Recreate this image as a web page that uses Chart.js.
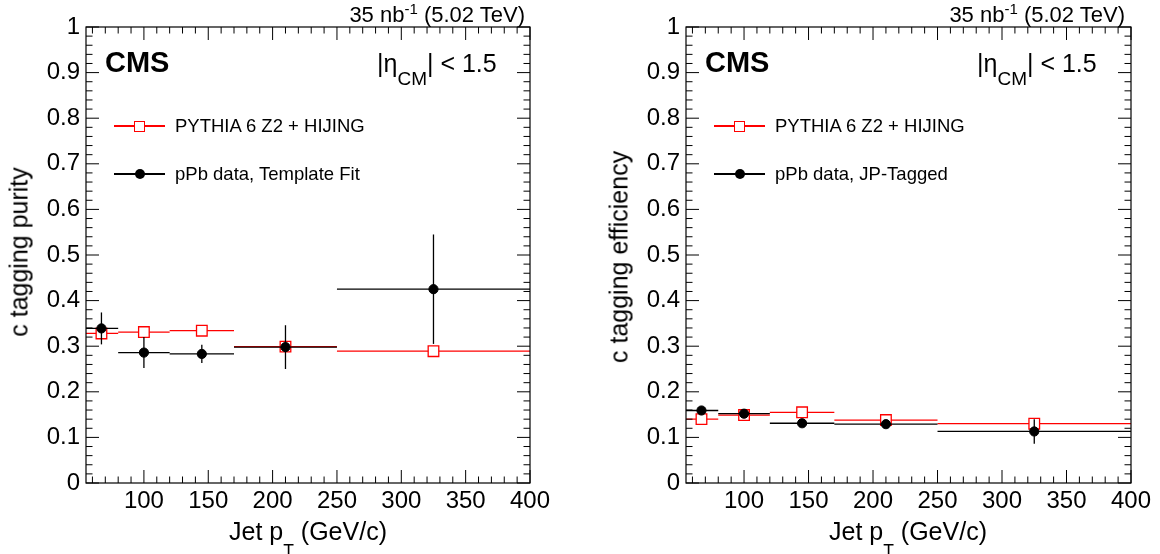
<!DOCTYPE html>
<html><head><meta charset="utf-8">
<script src="https://cdn.jsdelivr.net/npm/chart.js@4.4.1/dist/chart.umd.min.js"></script>
<style>
html,body{margin:0;padding:0;background:#fff;}
#wrap{position:relative;width:1160px;height:554px;overflow:hidden;font-family:'Liberation Sans',Arial,Helvetica,sans-serif;color:#000;}
canvas{position:absolute;top:0;}
.t{position:absolute;white-space:nowrap;line-height:1;}
</style></head><body>
<div id="wrap">
<canvas id="c1" width="580" height="554" style="left:0px"></canvas>
<canvas id="c2" width="580" height="554" style="left:580px"></canvas>
</div>
<script>
// ---------------- data ----------------
const binLow  = [55, 80, 120, 170, 250];
const binHigh = [80, 120, 170, 250, 400];
const jetPt   = [67, 100, 145, 210, 325];

const mcPurity      = [0.328, 0.331, 0.334, 0.299, 0.289];
const dataPurity    = [0.339, 0.286, 0.283, 0.298, 0.425];
const dataPurityErr = [0.035, 0.034, 0.020, 0.048, 0.120];

const mcEff      = [0.140, 0.149, 0.155, 0.138, 0.130];
const dataEff    = [0.159, 0.152, 0.131, 0.129, 0.113];
const dataEffErr = [0.008, 0.005, 0.006, 0.005, 0.027];

const xTickValues = [100, 150, 200, 250, 300, 350, 400];
const xTickLabels = ['100', '150', '200', '250', '300', '350', '400'];
const yTickValues = [0, 0.1, 0.2, 0.3, 0.4, 0.5, 0.6, 0.7, 0.8, 0.9, 1];
const yTickLabels = ['0', '0.1', '0.2', '0.3', '0.4', '0.5', '0.6', '0.7', '0.8', '0.9', '1'];

const mcLabel = 'PYTHIA 6 Z2 + HIJING';
const dataLabelPurity = 'pPb data, Template Fit';
const dataLabelEff = 'pPb data, JP-Tagged';
const yTitlePurity = 'c tagging purity';
const yTitleEff = 'c tagging efficiency';

// ---------------- chart ----------------
const FONT = "'Liberation Sans', Arial, Helvetica, sans-serif";
const RED = '#ff0000';

function buildDatasets(mc, data, dataErr) {
  const ds = [];
  for (let i = 0; i < jetPt.length; i++) {
    ds.push({type: 'line', data: [{x: binLow[i], y: mc[i]}, {x: binHigh[i], y: mc[i]}],
      borderColor: RED, borderWidth: 1.3, pointRadius: 0, fill: false, tension: 0, order: 3});
  }
  ds.push({type: 'scatter', data: jetPt.map((x, i) => ({x: x, y: mc[i]})),
    pointStyle: 'rect', pointRadius: 7.5, pointBorderWidth: 1.3,
    borderColor: RED, backgroundColor: '#ffffff', order: 2});
  for (let i = 0; i < jetPt.length; i++) {
    ds.push({type: 'line', data: [{x: binLow[i], y: data[i]}, {x: binHigh[i], y: data[i]}],
      borderColor: '#000', borderWidth: 1.3, pointRadius: 0, fill: false, tension: 0, order: 1});
    ds.push({type: 'line', data: [{x: jetPt[i], y: data[i] - dataErr[i]}, {x: jetPt[i], y: data[i] + dataErr[i]}],
      borderColor: '#000', borderWidth: 1.3, pointRadius: 0, fill: false, tension: 0, order: 1});
  }
  ds.push({type: 'scatter', data: jetPt.map((x, i) => ({x: x, y: data[i]})),
    pointStyle: 'circle', pointRadius: 4.6, pointBorderWidth: 1,
    borderColor: '#000', backgroundColor: '#000', order: 0});
  return ds;
}

const frameTicks = {
  id: 'frameTicks',
  afterDraw(chart) {
    const ctx = chart.ctx, a = chart.chartArea, xs = chart.scales.x, ys = chart.scales.y;
    ctx.save();
    ctx.strokeStyle = '#000';
    ctx.lineWidth = 1;
    ctx.beginPath();
    for (let v = Math.ceil(xs.min / 10) * 10; v <= xs.max; v += 10) {
      const px = xs.getPixelForValue(v);
      const L = (v % 50 === 0) ? 13 : 6.5;
      ctx.moveTo(px, a.bottom); ctx.lineTo(px, a.bottom - L);
      ctx.moveTo(px, a.top); ctx.lineTo(px, a.top + L);
    }
    for (let k = 0; k <= 50; k++) {
      const py = ys.getPixelForValue(k / 50);
      const L = (k % 5 === 0) ? 13 : 6.5;
      ctx.moveTo(a.left, py); ctx.lineTo(a.left + L, py);
      ctx.moveTo(a.right, py); ctx.lineTo(a.right - L, py);
    }
    ctx.stroke();
    ctx.lineWidth = 1.2;
    ctx.strokeRect(a.left, a.top, a.right - a.left, a.bottom - a.top);
    ctx.restore();
  }
};

function makeChart(id, mc, data, dataErr, yAxisWidth, rightPad) {
  return new Chart(document.getElementById(id), {
    type: 'scatter',
    data: {datasets: buildDatasets(mc, data, dataErr)},
    options: {
      responsive: false, animation: false, events: [],
      layout: {padding: {left: 0, right: rightPad, top: 27, bottom: 0}},
      plugins: {legend: {display: false}, tooltip: {enabled: false}},
      scales: {
        x: {type: 'linear', position: 'bottom', min: 55, max: 400,
          afterFit: s => { s.height = 71; },
          afterBuildTicks: s => { s.ticks = xTickValues.map(v => ({value: v})); },
          ticks: {callback: v => { const i = xTickValues.indexOf(v); return i >= 0 ? xTickLabels[i] : ''; },
            font: {family: FONT, size: 24}, color: '#000', padding: 4, maxRotation: 0, autoSkip: false},
          grid: {display: false, drawTicks: false}, border: {display: false}},
        y: {type: 'linear', position: 'left', min: 0, max: 1,
          afterFit: s => { s.width = yAxisWidth; },
          afterBuildTicks: s => { s.ticks = yTickValues.map(v => ({value: v})); },
          ticks: {callback: v => { const i = yTickValues.indexOf(v); return i >= 0 ? yTickLabels[i] : ''; },
            font: {family: FONT, size: 24}, color: '#000', padding: 6, autoSkip: false},
          grid: {display: false, drawTicks: false}, border: {display: false}}
      }
    },
    plugins: [frameTicks]
  });
}

makeChart('c1', mcPurity, dataPurity, dataPurityErr, 86, 50);
makeChart('c2', mcEff, dataEff, dataEffErr, 106, 29);

// ---------------- annotations (HTML text) ----------------
const wrap = document.getElementById('wrap');
function addEl(html, style) {
  const d = document.createElement('div');
  d.className = 't';
  d.innerHTML = html;
  Object.assign(d.style, style);
  wrap.appendChild(d);
  return d;
}
function panelText(ox, yTitle, dataLabel, yTitleCy) {
  // luminosity
  addEl('35 nb<span style="font-size:15px;position:relative;top:-8px">-1</span> (5.02 TeV)',
    {fontSize: '22px', right: (1160 - (ox + 525)) + 'px', top: '3.5px'});
  // CMS
  addEl('CMS', {fontSize: '29px', fontWeight: 'bold', left: (ox + 105) + 'px', top: '47.5px'});
  // eta range
  addEl('|η<span style="font-size:19px;position:relative;top:13px">CM</span>| &lt; 1.5',
    {fontSize: '25px', left: (ox + 377) + 'px', top: '51px'});
  // legend
  addEl('', {left: (ox + 114) + 'px', top: '125.3px', width: '51px', height: '1.4px', background: RED});
  addEl('', {left: (ox + 134) + 'px', top: '120.5px', width: '11px', height: '11px', boxSizing: 'border-box',
    border: '1.4px solid ' + RED, background: '#fff'});
  addEl(mcLabel, {fontSize: '18.5px', left: (ox + 175) + 'px', top: '117px'});
  addEl('', {left: (ox + 114) + 'px', top: '173.3px', width: '51px', height: '1.4px', background: '#000'});
  addEl('', {left: (ox + 134.5) + 'px', top: '169px', width: '10px', height: '10px', borderRadius: '50%', background: '#000'});
  addEl(dataLabel, {fontSize: '18.5px', left: (ox + 175) + 'px', top: '165px'});
  // x title
  addEl('Jet p<span style="font-size:17.5px;position:relative;top:17px">T</span> (GeV/c)',
    {fontSize: '25px', left: (ox + 308 - 150) + 'px', width: '300px', textAlign: 'center', top: '519px'});
  // y title
  addEl(yTitle, {fontSize: '25px', left: (ox + 19) + 'px', top: yTitleCy + 'px',
    transform: 'translate(-50%,-50%) rotate(-90deg)'});
}
panelText(0, yTitlePurity, dataLabelPurity, 252);
panelText(600, yTitleEff, dataLabelEff, 257);
</script>
</body></html>
